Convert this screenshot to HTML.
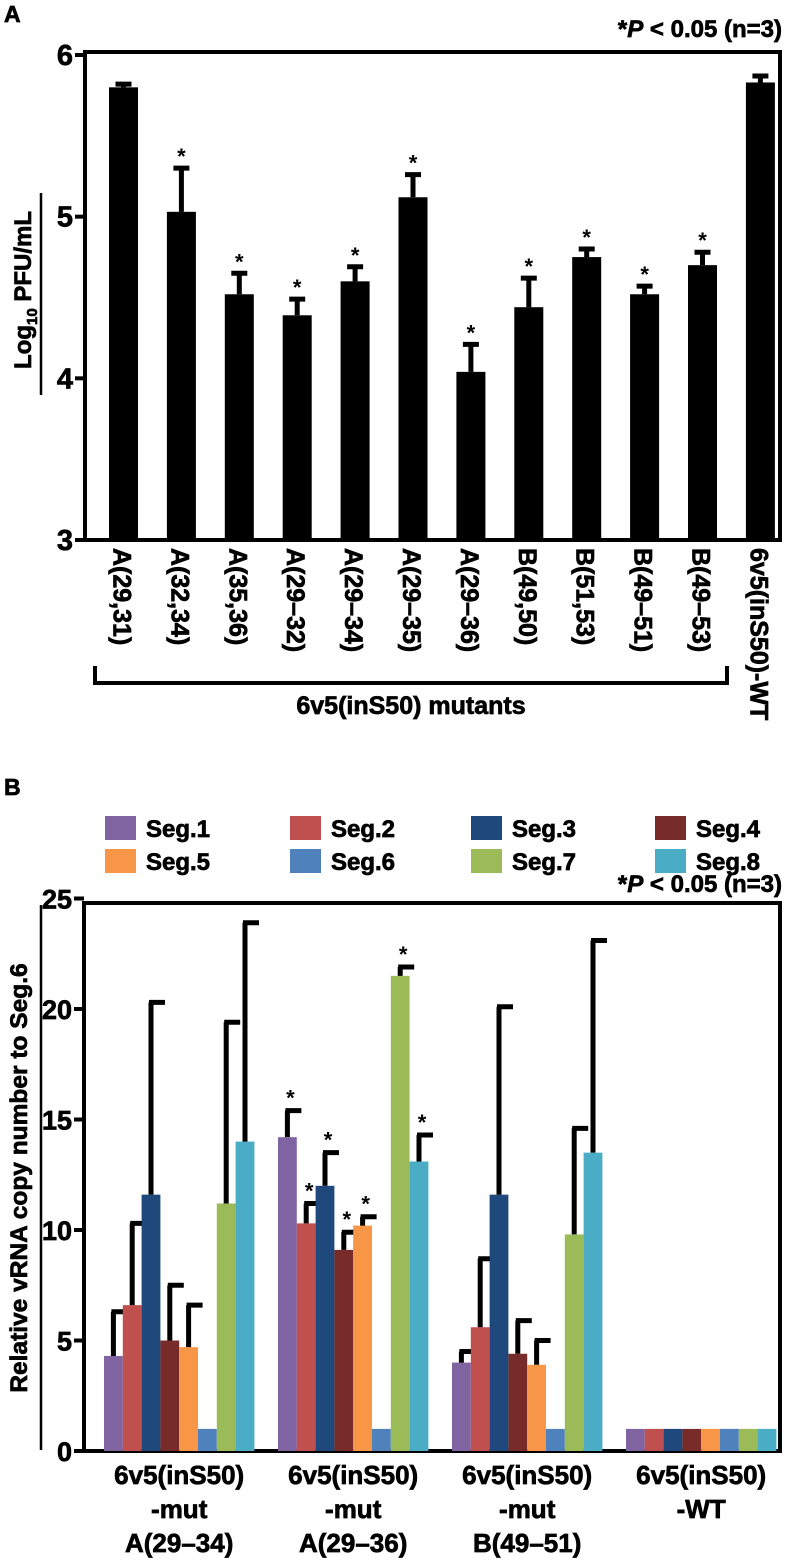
<!DOCTYPE html>
<html><head><meta charset="utf-8"><style>
body{margin:0;background:#fff;}
svg{display:block;font-family:"Liberation Sans",Arial,sans-serif;font-weight:bold;}
.t{stroke:#000;stroke-width:0.7;}
</style></head><body>
<svg id="c" width="798" height="1563" viewBox="0 0 798 1563" xmlns="http://www.w3.org/2000/svg">
<text x="4" y="22" font-size="23" class="t">A</text>
<text x="782" y="37" font-size="24" text-anchor="end" class="t">*<tspan font-style="italic">P</tspan> &lt; 0.05 (n=3)</text>
<text x="4" y="795" font-size="23" class="t">B</text>
<text x="782" y="892" font-size="24" text-anchor="end" class="t">*<tspan font-style="italic">P</tspan> &lt; 0.05 (n=3)</text>
<g id="ga"></g>
<g id="gb"></g>
</svg>
<script>
const aCats=["A(29,31)","A(32,34)","A(35,36)","A(29–32)","A(29–34)","A(29–35)","A(29–36)","B(49,50)","B(51,53)","B(49–51)","B(49–53)","6v5(inS50)-WT"];
const aVals=[5.8,5.03,4.52,4.39,4.6,5.12,4.04,4.44,4.75,4.52,4.7,5.83];
const aErr=[0.02,0.27,0.13,0.1,0.09,0.14,0.17,0.18,0.05,0.05,0.08,0.04];
const aSig=[false,true,true,true,true,true,true,true,true,true,true,false];
const aTicks=[3,4,5,6];

const bGroups=[["6v5(inS50)","-mut","A(29–34)"],["6v5(inS50)","-mut","A(29–36)"],["6v5(inS50)","-mut","B(49–51)"],["6v5(inS50)","-WT"]];
const bSeries=["Seg.1","Seg.2","Seg.3","Seg.4","Seg.5","Seg.6","Seg.7","Seg.8"];
const bColors=["#8064a2","#c0504d","#1f497d","#772c2a","#f79646","#4f81bd","#9bbb59","#4bacc6"];
const bVals=[[4.3,6.6,11.6,5.0,4.7,1,11.2,14.0],[14.2,10.3,12.0,9.1,10.2,1,21.5,13.1],[4.0,5.6,11.6,4.4,3.9,1,9.8,13.5],[1,1,1,1,1,1,1,1]];
const bErr=[[2.0,3.7,8.7,2.5,1.9,0,8.2,9.9],[1.2,0.9,1.5,0.8,0.4,0,0.4,1.2],[0.5,3.1,8.5,1.5,1.1,0,4.8,9.6],[0,0,0,0,0,0,0,0]];
const bSig=[[0,0,0,0,0,0,0,0],[1,1,1,1,1,0,1,1],[0,0,0,0,0,0,0,0],[0,0,0,0,0,0,0,0]];
const bTicks=[0,5,10,15,20,25];

const NS="http://www.w3.org/2000/svg";
function mk(p,t,at,txt){const e=document.createElementNS(NS,t);for(const k in at)e.setAttribute(k,at[k]);if(txt!=null)e.textContent=txt;p.appendChild(e);return e;}

// Panel A
const ga=document.getElementById('ga');
const aL=85,aR=780,aT=52,aB=540;
const ya=v=>aB-(v-3)/3*(aB-55);
const xa=i=>123.5+i*57.9;
let e=mk(ga,'rect',{x:aL,y:aT,width:aR-aL,height:aB-aT,fill:'none',stroke:'#000','stroke-width':4});

aTicks.forEach(t=>{
 e=mk(ga,'line',{x1:aL-10,x2:aL,y1:ya(t),y2:ya(t),stroke:'#000','stroke-width':4});
 
 e=mk(ga,'text',{x:aL-12,y:ya(t)+10,'font-size':29,'text-anchor':'end',class:'t'},t);
 
});
e=mk(ga,'text',{transform:'translate(31,290) rotate(-90)','font-size':24,'text-anchor':'middle',class:'t'});
e.innerHTML='Log<tspan font-size="15" dy="6">10</tspan><tspan dy="-6"> PFU/mL</tspan>';

e=mk(ga,'line',{x1:41,x2:41,y1:193,y2:395,stroke:'#000','stroke-width':2.5});

aVals.forEach((v,i)=>{
 const x=xa(i),w=29;
 e=mk(ga,'rect',{x:x-w/2,y:ya(v),width:w,height:aB-ya(v),fill:'#000'});
 
 const ye=ya(v+aErr[i]);
 e=mk(ga,'path',{d:`M${x} ${ya(v)}V${ye}M${x-8} ${ye}H${x+8}`,stroke:'#000','stroke-width':5,fill:'none'});
 
 if(aSig[i]){e=mk(ga,'text',{x:x,y:ye-4,'font-size':22,'text-anchor':'middle'},'*');
 }
 e=mk(ga,'text',{transform:`translate(${x-10},548) rotate(90)`,'font-size':25,class:'t'},aCats[i]);
 
});
e=mk(ga,'path',{d:'M95 666V683H727V666',stroke:'#000','stroke-width':4,fill:'none'});

e=mk(ga,'text',{x:411,y:714,'font-size':25,'text-anchor':'middle',class:'t'},'6v5(inS50) mutants');


// Panel B
const gb=document.getElementById('gb');
const bL=84,bR=780,bT=903,bB=1451;
const yb=v=>bB-v*22.1;
const gStart=[104,278,452,626],bw=18.8;
const legX=[105,290,471,655];
bSeries.forEach((s,j)=>{
 const lx=legX[j%4],ly=j<4?816:849;
 e=mk(gb,'rect',{x:lx,y:ly,width:31,height:24,fill:bColors[j]});
 
 e=mk(gb,'text',{x:lx+41,y:ly+21,'font-size':24,class:'t'},s);
 
});
e=mk(gb,'rect',{x:bL,y:bT,width:bR-bL,height:bB-bT,fill:'none',stroke:'#000','stroke-width':4});

bTicks.forEach(t=>{
 e=mk(gb,'line',{x1:bL-10,x2:bL,y1:yb(t),y2:yb(t),stroke:'#000','stroke-width':4});
 
 e=mk(gb,'text',{x:bL-12,y:yb(t)+10,'font-size':27,'text-anchor':'end',class:'t'},t);
 
});
e=mk(gb,'text',{transform:'translate(27,1178) rotate(-90)','font-size':24.5,'text-anchor':'middle',class:'t'},'Relative vRNA copy number to Seg.6');

e=mk(gb,'line',{x1:41,x2:41,y1:905,y2:1450,stroke:'#000','stroke-width':2.5});

bVals.forEach((row,g)=>{
 row.forEach((v,j)=>{
  const x=gStart[g]+j*bw;
  e=mk(gb,'rect',{x:x,y:yb(v),width:bw,height:bB-yb(v),fill:bColors[j]});
  
  const er=bErr[g][j];let top=yb(v);
  if(er>0){const cx=x+bw/2,ye=yb(v+er);top=ye;
   e=mk(gb,'path',{d:`M${cx} ${yb(v)}V${ye}M${cx-2} ${ye}H${cx+14}`,stroke:'#000','stroke-width':5,fill:'none'});
   }
  if(bSig[g][j]){e=mk(gb,'text',{x:x+bw/2+3,y:top-5,'font-size':22,'text-anchor':'middle'},'*');
   }
 });
 const cx=gStart[g]+4*bw;
 bGroups[g].forEach((ln,k)=>{
  e=mk(gb,'text',{x:cx,y:1484+k*34,'font-size':26,'text-anchor':'middle',class:'t'},ln);
  
 });
});
</script>
</body></html>
